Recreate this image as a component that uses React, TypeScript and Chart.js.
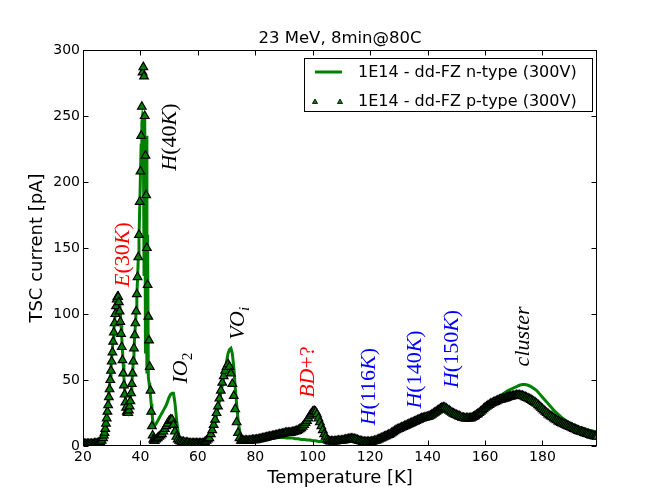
import { useEffect, useRef } from 'react';
import { Chart, registerables } from 'chart.js';

Chart.register(...registerables);

// n-type temperature grid [K], finer steps where the peaks are steep
const nTemperatures = [
  20, 21, 22, 23, 24, 25, 26, 26.5,
  27, 27.25, 27.5, 27.75, 28, 28.25, 28.5, 28.75, 29, 29.25,
  29.5, 29.75, 30, 30.25, 30.5, 30.75, 31, 31.25, 31.5, 31.75,
  32, 32.25, 32.5, 32.75, 33, 33.25, 33.5, 33.75, 34, 34.25,
  34.5, 34.75, 35, 35.25, 35.5, 35.75, 36, 36.25, 36.5, 36.75,
  37, 37.25, 37.5, 37.75, 38, 38.25, 38.5, 38.75, 39, 39.25,
  39.5, 39.75, 40, 40.25, 40.5, 40.75, 41, 41.25, 41.5, 41.75,
  42, 42.25, 42.5, 42.75, 43, 43.25, 43.5, 43.75, 44, 44.25,
  44.5, 44.75, 45,
  45.5, 46, 46.5, 47, 47.5, 48, 48.5, 49, 49.5, 50, 50.5,
  51, 51.5, 52, 52.5, 53, 53.5, 54, 54.5, 55, 55.5, 56,
  57, 58, 59, 60, 61, 62,
  62.5, 63, 63.5, 64, 64.5, 65, 65.5, 66, 66.5, 67, 67.5, 68, 68.5, 69,
  69.5, 70, 70.5, 71, 71.5, 72, 72.5, 73, 73.5, 74, 74.5, 75, 75.5, 76,
  77, 78, 79, 80, 81, 82, 83, 84, 85, 86,
  87, 88, 89, 90, 91, 92, 93, 94, 95, 96,
  97, 98, 99, 100, 101, 102, 103, 104, 105, 106,
  107, 108, 109, 110, 111, 112, 113, 114, 115, 116,
  117, 118, 119, 120, 121, 122, 123, 124, 125, 126,
  127, 128, 129, 130, 131, 132, 133, 134, 135, 136,
  137, 138, 139, 140, 141, 142, 143, 144, 145, 146,
  147, 148, 149, 150, 151, 152, 153, 154, 155, 156,
  157, 158, 159, 160, 161, 162, 163, 164, 165, 166,
  167, 168, 169, 170, 171, 172, 173, 174, 175, 176,
  177, 178, 179, 180, 181, 182, 183, 184, 185, 186,
  187, 188, 189, 190, 191, 192, 193, 194, 195, 196,
  197, 198, 199,
];

// 1E14 - dd-FZ n-type (300V), green line [pA]
const nTypeCurrent = [
  1.5, 1.5, 1.5, 1.5, 2, 2, 3.5, 5,
  8, 10, 13, 16, 20, 24, 29, 34, 40, 46,
  53, 60, 67, 74, 81, 88, 95, 101, 107, 111,
  114, 115, 113, 108, 101, 92, 82, 72, 62, 52,
  44, 37, 32, 30, 29, 29, 30, 32, 36, 41,
  47, 55, 63, 73, 83, 92, 102, 114, 127, 142,
  158, 180, 205, 228, 245, 250, 248, 130, 249, 70,
  235, 55, 160, 52, 48, 43, 38, 32, 26, 20,
  16, 15, 15,
  17, 19, 21, 23, 25, 27, 29, 31, 34, 37, 39,
  40, 40, 33, 22, 12, 7, 5, 4, 3.5, 3, 3,
  2.5, 2.5, 2.5, 2.5, 2.5, 3,
  3.5, 4, 5, 6, 8, 11, 14, 18, 23, 28, 34, 40, 46, 52,
  58, 64, 70, 73, 74, 70, 60, 45, 32, 20, 12, 7, 5, 5,
  5, 5, 5, 5.5, 5.5, 6, 6, 6, 6.5, 6.5,
  6.5, 6.5, 6.5, 6.5, 6, 6, 6, 5.5, 5.5, 5,
  5, 4.5, 4.5, 4, 4, 3.5, 3.5, 3, 3, 3,
  3, 3, 3.5, 3.5, 4, 4.5, 5, 5, 4.5, 4,
  3.5, 3, 3, 3, 3.5, 4, 4.5, 5.5, 6.5, 7.5,
  8.5, 9.5, 11, 12, 13, 14, 15, 16, 17, 18,
  19, 20, 21, 21.5, 22.5, 23.5, 25, 26, 27, 28,
  27.5, 27, 26, 25, 24, 23, 22, 21.5, 21.5, 22,
  23.5, 25, 27, 29, 31, 33, 34.5, 36, 37.5, 39,
  40.5, 42, 43, 44, 45, 46, 46.5, 46.5, 46, 45,
  43.5, 42, 39.5, 37, 34.5, 32, 29.5, 27, 25, 23,
  21, 19.5, 18, 17, 16, 15, 14, 13.5, 13, 12,
  11.5, 11, 10.5,
];

// p-type temperature grid [K], denser so the markers merge into a band
const pTemperatures = [
  20, 20.5, 21, 21.5, 22, 22.5, 23, 23.5, 24, 24.5, 25, 25.5, 26, 26.5,
  27, 27.25, 27.5, 27.75, 28, 28.25, 28.5, 28.75, 29, 29.25,
  29.5, 29.75, 30, 30.25, 30.5, 30.75, 31, 31.25, 31.5, 31.75,
  32, 32.25, 32.5, 32.75, 33, 33.25, 33.5, 33.75, 34, 34.25,
  34.5, 34.75, 35, 35.25, 35.5, 35.75, 36, 36.25, 36.5, 36.75,
  37, 37.25, 37.5, 37.75, 38, 38.25, 38.5, 38.75, 39, 39.25,
  39.5, 39.75, 40, 40.25, 40.5, 40.75, 41, 41.25, 41.5, 41.75,
  42, 42.25, 42.5, 42.75, 43, 43.25, 43.5, 43.75, 44, 44.25,
  44.5, 44.75, 45,
  45.5, 46, 46.5, 47, 47.5, 48, 48.5, 49, 49.5, 50, 50.5,
  51, 51.5, 52, 52.5, 53, 53.5, 54, 54.5, 55, 55.5, 56,
  56.5, 57, 57.5, 58, 58.5, 59, 59.5, 60, 60.5, 61, 61.5, 62,
  62.5, 63, 63.5, 64, 64.5, 65, 65.5, 66, 66.5, 67, 67.5, 68, 68.5, 69,
  69.5, 70, 70.5, 71, 71.5, 72, 72.5, 73, 73.5, 74, 74.5, 75, 75.5, 76,
  76.5, 77, 77.5, 78, 78.5, 79, 79.5, 80, 80.5, 81,
  81.5, 82, 82.5, 83, 83.5, 84, 84.5, 85, 85.5, 86,
  86.5, 87, 87.5, 88, 88.5, 89, 89.5, 90, 90.5, 91,
  91.5, 92, 92.5, 93, 93.5, 94, 94.5, 95, 95.5, 96,
  96.5, 97, 97.5, 98, 98.5, 99, 99.5, 100, 100.5, 101,
  101.5, 102, 102.5, 103, 103.5, 104, 104.5, 105, 105.5, 106,
  106.5, 107, 107.5, 108, 108.5, 109, 109.5, 110, 110.5, 111,
  111.5, 112, 112.5, 113, 113.5, 114, 114.5, 115, 115.5, 116,
  116.5, 117, 117.5, 118, 118.5, 119, 119.5, 120, 120.5, 121,
  121.5, 122, 122.5, 123, 123.5, 124, 124.5, 125, 125.5, 126,
  126.5, 127, 127.5, 128, 128.5, 129, 129.5, 130, 130.5, 131,
  131.5, 132, 132.5, 133, 133.5, 134, 134.5, 135, 135.5, 136,
  136.5, 137, 137.5, 138, 138.5, 139, 139.5, 140, 140.5, 141,
  141.5, 142, 142.5, 143, 143.5, 144, 144.5, 145, 145.5, 146,
  146.5, 147, 147.5, 148, 148.5, 149, 149.5, 150, 150.5, 151,
  151.5, 152, 152.5, 153, 153.5, 154, 154.5, 155, 155.5, 156,
  156.5, 157, 157.5, 158, 158.5, 159, 159.5, 160, 160.5, 161,
  161.5, 162, 162.5, 163, 163.5, 164, 164.5, 165, 165.5, 166,
  166.5, 167, 167.5, 168, 168.5, 169, 169.5, 170, 170.5, 171,
  171.5, 172, 172.5, 173, 173.5, 174, 174.5, 175, 175.5, 176,
  176.5, 177, 177.5, 178, 178.5, 179, 179.5, 180, 180.5, 181,
  181.5, 182, 182.5, 183, 183.5, 184, 184.5, 185, 185.5, 186,
  186.5, 187, 187.5, 188, 188.5, 189, 189.5, 190, 190.5, 191,
  191.5, 192, 192.5, 193, 193.5, 194, 194.5, 195, 195.5, 196,
  196.5, 197, 197.5, 198, 198.5, 199,
];

// 1E14 - dd-FZ p-type (300V), triangles [pA]
const pTypeCurrent = [
  1.5, 1.5, 1.5, 1.5, 1.5, 1.5, 1.5, 1.5, 2, 2, 2, 2.5, 3, 4,
  6, 8, 10, 13, 17, 21, 26, 31, 37, 43,
  50, 57, 64, 71, 79, 86, 93, 100, 106, 111,
  113, 113, 109, 102, 94, 85, 75, 65, 55, 46,
  39, 33, 29, 26, 25, 25, 27, 30, 34, 40,
  47, 55, 64, 74, 84, 93, 102, 115, 128, 143,
  160, 185, 208, 235, 257, 283, 287, 280, 250, 220,
  190, 150, 122, 98, 80, 60, 42, 26, 15, 8,
  5, 4, 4,
  5, 6, 7, 8, 9, 11, 13, 15, 17, 19, 20,
  20, 16, 11, 7, 5, 4, 3.5, 3, 3, 2.5, 2.5,
  2.5, 2, 2, 2, 2, 2, 2, 2, 2, 2, 2, 2,
  3, 4, 5, 6, 9, 12, 16, 20, 25, 30, 36, 42, 48, 53,
  57, 60, 62, 60, 55, 47, 38, 28, 18, 10, 6, 4, 4, 4,
  4, 4, 4, 4, 4.2, 4.5, 4.5, 4.5, 4.8, 5,
  5.2, 5.5, 5.8, 6, 6.2, 6.5, 6.8, 7, 7.2, 7.5,
  7.8, 8, 8.2, 8.5, 8.8, 9, 9.2, 9.5, 9.8, 10,
  10, 10, 10.2, 10.5, 10.8, 11, 11.5, 12, 12.7, 13.5,
  14.7, 16, 17.5, 19, 21, 23, 24.5, 26, 26.5, 26,
  24, 21, 18, 15, 12, 9, 7, 5, 4, 3.5,
  3.5, 3.5, 3.5, 3.5, 3.8, 4, 4, 4, 4.2, 4.5,
  4.8, 5, 5.2, 5.5, 5.5, 5.5, 5.2, 5, 4.5, 4,
  3.8, 3.5, 3.2, 3, 3, 3, 3, 3, 3.2, 3.5,
  3.8, 4, 4.5, 5, 5.5, 6, 6.5, 7, 7.5, 8,
  8.5, 9, 9.8, 10.5, 11.2, 12, 12.5, 13, 13.5, 14,
  14.5, 15, 15.5, 16, 16.5, 17, 17.5, 18, 18.5, 19,
  19.5, 20, 20.5, 21, 21.2, 21.5, 21.8, 22, 22.5, 23,
  23.7, 24.5, 25.2, 26, 26.7, 27.5, 28.3, 29, 29.2, 29,
  28.3, 27.5, 26.8, 26, 25.2, 24.5, 24, 23.5, 23, 22.5,
  22, 21.5, 21.2, 21, 21, 21, 21, 21, 21.5, 22,
  22.7, 23.5, 24.2, 25, 26, 27, 28, 29, 29.8, 30.5,
  31.2, 32, 32.5, 33, 33.5, 34, 34.5, 35, 35.2, 35.5,
  35.8, 36, 36.5, 37, 37.2, 37.5, 37.8, 38, 38.2, 38.5,
  38.5, 38.5, 38.2, 38, 37.5, 37, 36.5, 36, 35.5, 35,
  34.2, 33.5, 32.8, 32, 31, 30, 29, 28, 27, 26,
  25, 24, 23.2, 22.5, 21.8, 21, 20.2, 19.5, 18.7, 18,
  17.5, 17, 16.5, 16, 15.5, 15, 14.5, 14, 13.5, 13,
  12.5, 12, 11.5, 11, 10.8, 10.5, 10, 9.5, 9.2, 9,
  8.5, 8, 7.8, 7.5, 7.2, 7,
];

const xTicks = [20, 40, 60, 80, 100, 120, 140, 160, 180];
const yTicks = [0, 50, 100, 150, 200, 250, 300];

const seriesNames = ['1E14 - dd-FZ n-type (300V)', '1E14 - dd-FZ p-type (300V)'];

// peak labels, placed at (temperature, current)
const peakLabels = [
  { text: 'E(30K)', sub: '', color: '#ff0000', t: 33.9, c: 145 },
  { text: 'H(40K)', sub: '', color: '#000000', t: 50.3, c: 234 },
  { text: 'IO', sub: '2', color: '#000000', t: 54.3, c: 59 },
  { text: 'VO', sub: 'i', color: '#000000', t: 74, c: 93 },
  { text: 'BD+?', sub: '', color: '#ff0000', t: 98.4, c: 56 },
  { text: 'H(116K)', sub: '', color: '#0000ff', t: 119.6, c: 45 },
  { text: 'H(140K)', sub: '', color: '#0000ff', t: 135.7, c: 58 },
  { text: 'H(150K)', sub: '', color: '#0000ff', t: 148.6, c: 73.5 },
  { text: 'cluster', sub: '', color: '#000000', t: 173.3, c: 83 },
];

const GREEN = '#008000';
const SANS = '"DejaVu Sans", sans-serif';
const SERIF = '"Liberation Serif", serif';

// mathtext-like: letters italic, digits and symbols upright, rotated 90deg
function drawMathLabel(ctx: CanvasRenderingContext2D, text: string, sub: string, x: number, y: number, size: number, color: string) {
  const runs = text.match(/[A-Za-z]+|[^A-Za-z]+/g) || [];
  const fontFor = (s: string, sz: number) => (/[A-Za-z]/.test(s) ? `italic ${sz}px ${SERIF}` : `${sz}px ${SERIF}`);
  const subSize = size * 0.7;
  let total = 0;
  const widths = runs.map((r) => {
    ctx.font = fontFor(r, size);
    const w = ctx.measureText(r).width;
    total += w;
    return w;
  });
  let subW = 0;
  if (sub) {
    ctx.font = fontFor(sub, subSize);
    subW = ctx.measureText(sub).width;
  }
  total += subW;
  ctx.save();
  ctx.translate(x, y);
  ctx.rotate(-Math.PI / 2);
  ctx.fillStyle = color;
  ctx.textBaseline = 'middle';
  ctx.textAlign = 'left';
  let pos = -total / 2;
  runs.forEach((r, i) => {
    ctx.font = fontFor(r, size);
    ctx.fillText(r, pos, 0);
    pos += widths[i];
  });
  if (sub) {
    ctx.font = fontFor(sub, subSize);
    ctx.fillText(sub, pos, size * 0.3);
  }
  ctx.restore();
}

function triangle(ctx: CanvasRenderingContext2D, x: number, y: number, r: number) {
  ctx.beginPath();
  ctx.moveTo(x, y - r);
  ctx.lineTo(x + r * Math.sin((2 * Math.PI) / 3), y + r / 2);
  ctx.lineTo(x - r * Math.sin((2 * Math.PI) / 3), y + r / 2);
  ctx.closePath();
  ctx.fill();
  ctx.stroke();
}

const decorPlugin = {
  id: 'tscDecor',
  afterDatasetsDraw(chart: any) {
    const { ctx, chartArea, scales } = chart;
    const { left, right, top, bottom } = chartArea;
    const xs = scales.x;
    const ys = scales.y;

    peakLabels.forEach((p) => {
      drawMathLabel(ctx, p.text, p.sub, xs.getPixelForValue(p.t), ys.getPixelForValue(p.c), 22, p.color);
    });

    ctx.save();
    ctx.strokeStyle = '#000';
    ctx.lineWidth = 1;
    const L = Math.round(left) + 0.5;
    const R = Math.round(right) - 0.5;
    const T = Math.round(top) + 0.5;
    const B = Math.round(bottom) - 0.5;
    ctx.strokeRect(L, T, R - L, B - T);
    ctx.beginPath();
    xTicks.forEach((v) => {
      const px = Math.round(xs.getPixelForValue(v)) + 0.5;
      ctx.moveTo(px, B);
      ctx.lineTo(px, B - 5);
      ctx.moveTo(px, T);
      ctx.lineTo(px, T + 5);
    });
    yTicks.forEach((v) => {
      const py = Math.round(ys.getPixelForValue(v)) + 0.5;
      ctx.moveTo(L, py);
      ctx.lineTo(L + 5, py);
      ctx.moveTo(R, py);
      ctx.lineTo(R - 5, py);
    });
    ctx.stroke();

    // title
    ctx.fillStyle = '#000';
    ctx.font = `16.5px ${SANS}`;
    ctx.textAlign = 'center';
    ctx.textBaseline = 'alphabetic';
    ctx.fillText('23 MeV, 8min@80C', (left + right) / 2, top - 6.7);

    // legend
    const bx = right - 293;
    const by = top + 8;
    ctx.fillStyle = '#fff';
    ctx.fillRect(bx, by, 288, 53);
    ctx.strokeRect(Math.round(bx) + 0.5, Math.round(by) + 0.5, 288, 53);
    ctx.strokeStyle = GREEN;
    ctx.lineWidth = 3;
    ctx.beginPath();
    ctx.moveTo(bx + 11, by + 14);
    ctx.lineTo(bx + 38, by + 14);
    ctx.stroke();
    ctx.fillStyle = GREEN;
    ctx.strokeStyle = '#000';
    ctx.lineWidth = 0.8;
    triangle(ctx, bx + 11, by + 44, 3);
    triangle(ctx, bx + 36, by + 44, 3);
    ctx.fillStyle = '#000';
    ctx.font = `16px ${SANS}`;
    ctx.textAlign = 'left';
    ctx.textBaseline = 'middle';
    ctx.fillText(seriesNames[0], bx + 54, by + 14.5);
    ctx.fillText(seriesNames[1], bx + 54, by + 44);
    ctx.restore();
  },
};

export default function App() {
  const canvasRef = useRef<HTMLCanvasElement>(null);
  const chartRef = useRef<Chart | null>(null);

  useEffect(() => {
    if (!canvasRef.current) return;
    if (chartRef.current) chartRef.current.destroy();

    Chart.defaults.font.family = SANS;
    Chart.defaults.color = '#000';

    chartRef.current = new Chart(canvasRef.current, {
      type: 'line',
      data: {
        datasets: [
          {
            label: seriesNames[0],
            data: nTemperatures.map((t, i) => ({ x: t, y: nTypeCurrent[i] })),
            borderColor: GREEN,
            borderWidth: 3,
            pointRadius: 0,
            tension: 0,
            order: 1,
            clip: 0,
          },
          {
            label: seriesNames[1],
            data: pTemperatures.map((t, i) => ({ x: t, y: pTypeCurrent[i] })),
            showLine: false,
            pointStyle: 'triangle',
            pointRadius: 5,
            pointBackgroundColor: GREEN,
            pointBorderColor: '#000',
            pointBorderWidth: 1.2,
            order: 0,
            clip: 0,
          },
        ],
      },
      options: {
        responsive: false,
        animation: false,
        layout: { padding: { top: 50, right: 67, left: 0, bottom: 0 } },
        plugins: {
          legend: { display: false },
          tooltip: { enabled: false },
          title: { display: false },
        },
        scales: {
          x: {
            type: 'linear',
            min: 20,
            max: 199,
            afterBuildTicks: (s: any) => {
              s.ticks = xTicks.map((v) => ({ value: v }));
            },
            afterFit: (s: any) => {
              s.height = 52;
            },
            ticks: { font: { size: 14 }, color: '#000', padding: 3, maxRotation: 0, autoSkip: false },
            grid: { display: false, drawTicks: false },
            border: { display: false },
            title: {
              display: true,
              text: 'Temperature [K]',
              font: { size: 18 },
              color: '#000',
              padding: { top: 0, bottom: 8.5 },
            },
          },
          y: {
            type: 'linear',
            min: 0,
            max: 300,
            afterBuildTicks: (s: any) => {
              s.ticks = yTicks.map((v) => ({ value: v }));
            },
            afterFit: (s: any) => {
              s.width = 83;
            },
            ticks: { font: { size: 14 }, color: '#000', padding: 3 },
            grid: { display: false, drawTicks: false },
            border: { display: false },
            title: {
              display: true,
              text: 'TSC current [pA]',
              font: { size: 18 },
              color: '#000',
              padding: { top: 27, bottom: 0 },
            },
          },
        },
      },
      plugins: [decorPlugin],
    });

    return () => {
      if (chartRef.current) {
        chartRef.current.destroy();
        chartRef.current = null;
      }
    };
  }, []);

  return (
    <div style={{ position: 'absolute', left: 0, top: 0, width: 664, height: 498, background: '#fff' }}>
      <canvas ref={canvasRef} width={664} height={498} style={{ width: 664, height: 498 }} />
    </div>
  );
}
